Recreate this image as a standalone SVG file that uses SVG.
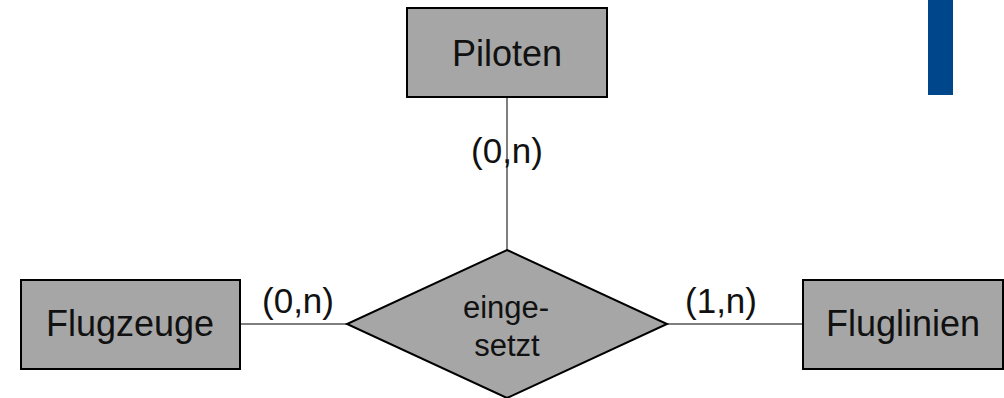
<svg xmlns="http://www.w3.org/2000/svg" width="1004" height="398" viewBox="0 0 1004 398">
  <style>
    .entity { fill: #a6a6a6; stroke: #000; stroke-width: 2; }
    .rel { fill: #a6a6a6; stroke: #000; stroke-width: 2; }
    .link { stroke: #555; stroke-width: 1.5; fill: none; }
    .name { font-family: "Liberation Sans", Arial, sans-serif; font-size: 36px; fill: #111; text-anchor: middle; }
    .relname { font-family: "Liberation Sans", Arial, sans-serif; font-size: 31px; fill: #111; text-anchor: middle; }
    .card { font-family: "Liberation Sans", Arial, sans-serif; font-size: 35px; fill: #111; text-anchor: middle; }
  </style>

  <rect width="1004" height="398" fill="#ffffff"/>

  <!-- accent bar -->
  <rect x="928" y="0" width="25" height="95" fill="#00468b"/>

  <!-- connectors -->
  <g id="connectors">
    <line class="link" x1="507" y1="97" x2="507" y2="250"/>
    <line class="link" x1="240" y1="324" x2="347" y2="324"/>
    <line class="link" x1="667" y1="324" x2="803" y2="324"/>
  </g>

  <g id="piloten">
    <rect class="entity" x="407" y="8" width="200" height="89"/>
    <text class="name" x="507" y="66">Piloten</text>
  </g>

  <g id="flugzeuge">
    <rect class="entity" x="21" y="280" width="219" height="89"/>
    <text class="name" x="130" y="336">Flugzeuge</text>
  </g>

  <g id="fluglinien">
    <rect class="entity" x="803" y="280" width="200" height="89"/>
    <text class="name" x="903" y="336">Fluglinien</text>
  </g>

  <g id="eingesetzt">
    <polygon class="rel" points="507,250 667,324 507,398 347,324"/>
    <text class="relname" x="506" y="318">einge-</text>
    <text class="relname" x="507" y="356">setzt</text>
  </g>

  <!-- cardinalities -->
  <g id="cardinalities">
    <text class="card" x="507" y="163">(0,n)</text>
    <text class="card" x="298" y="313">(0,n)</text>
    <text class="card" x="721" y="313">(1,n)</text>
  </g>
</svg>
